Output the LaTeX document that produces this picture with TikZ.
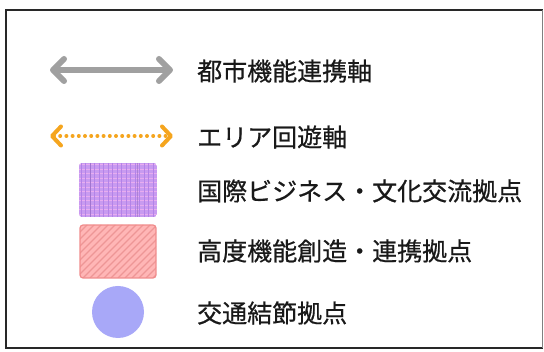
\documentclass[tikz,border=0pt]{standalone}
\usepackage{fontspec}
\newfontfamily\jp[FakeBold=0.6]{Noto Sans CJK JP}
\usetikzlibrary{arrows.meta}
\definecolor{axisgray}{RGB}{160,160,160}
\definecolor{loopcol}{RGB}{245,165,30}
\definecolor{purplefill}{RGB}{200,155,240}
\definecolor{purplegrid}{RGB}{180,130,232}
\definecolor{pinkgrid}{RGB}{232,172,240}
\definecolor{pinkfill}{RGB}{255,182,182}
\definecolor{pinkline}{RGB}{240,140,140}
\definecolor{pinkhatch}{RGB}{238,150,150}
\definecolor{nodeblue}{RGB}{168,168,248}
\definecolor{framecol}{RGB}{40,40,40}
\begin{document}
\begin{tikzpicture}[x=1pt,y=-1pt,
  legtext/.style={anchor=west, inner sep=0pt, text=black!90, font=\jp\fontsize{25}{25}\selectfont},
  grayaxis/.style={draw=axisgray, line width=6pt,
     {Straight Barb[length=11pt,width=22pt,line width=6pt,round]}-{Straight Barb[length=11pt,width=22pt,line width=6pt,round]}},
  loopaxis/.style={draw=loopcol, line width=4pt, line cap=round, dash pattern=on 0pt off 6.2pt,
     {Straight Barb[length=9pt,width=19pt,line width=4pt,round]}-{Straight Barb[length=9pt,width=19pt,line width=4pt,round]}}
]
\useasboundingbox (0,0) rectangle (544,352);
\fill[white] (0,0) rectangle (544,352);
% frame
\draw[framecol, line width=2pt] (542.5,10.5) -- (5.5,10.5) -- (5.5,348) -- (542.5,348);
\draw[gray, line width=1.2pt] (542.5,10.5) -- (542.5,348);

% row 1: gray axis
\coordinate (g1) at (50,70);
\coordinate (g2) at (173,70);
\draw[grayaxis] (g1) -- (g2);
\node[legtext] (t1) at (197,71) {都市機能連携軸};

% row 2: orange dotted axis
\coordinate (o1) at (50,136);
\coordinate (o2) at (173,136);
\draw[loopaxis] (o1) -- (o2);
\node[legtext] (t2) at (197,137) {エリア回遊軸};

% row 3: purple grid box
\begin{scope}
\clip[rounded corners=3pt] (79,163) rectangle (157,217);
\fill[purplefill] (79,163) rectangle (157,217);
\foreach \yy in {165,169.5,...,217} \draw[pinkgrid, line width=1pt] (79,\yy) -- (157,\yy);
\foreach \xx in {81,85.5,...,157} \draw[purplegrid, line width=1pt] (\xx,163) -- (\xx,217);
\draw[purplegrid!80!black, line width=0.8pt, opacity=0.5] (90,163) -- (90,217) (137,163) -- (137,217);
\end{scope}
\node[legtext] (t3) at (197,191) {国際ビジネス・文化交流拠点};

% row 4: pink hatched box
\begin{scope}
\clip[rounded corners=3pt] (80,225) rectangle (156,278);
\fill[pinkfill] (80,225) rectangle (156,278);
\foreach \k in {0,7,...,140} \draw[pinkhatch, line width=1.1pt] (80+\k-60,278) -- (80+\k,218);
\end{scope}
\draw[pinkline, line width=1.2pt, rounded corners=3pt] (80,225) rectangle (156,278);
\node[legtext] (t4) at (197,251) {高度機能創造・連携拠点};

% row 5: circle
\fill[nodeblue] (118,312) circle (26);
\node[legtext] (t5) at (197,313) {交通結節拠点};
\end{tikzpicture}
\end{document}
